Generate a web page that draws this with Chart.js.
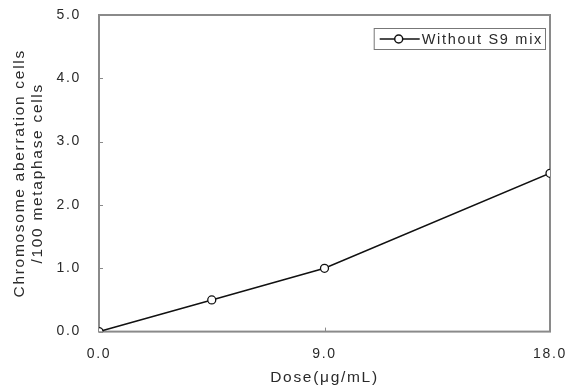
<!DOCTYPE html>
<html>
<head>
<meta charset="utf-8">
<script src="https://cdn.jsdelivr.net/npm/chart.js@4.4.0/dist/chart.umd.min.js"></script>
<style>
  html, body { margin: 0; padding: 0; background: #fff; }
  #wrap { width: 565px; height: 391px; }
</style>
</head>
<body>
<div id="wrap"><canvas id="c"></canvas></div>
<script>
const doses = [0, 4.5, 9, 18];
const aberrations = [0, 0.5, 1.0, 2.5];
const seriesLabel = 'Without S9 mix';
const xTicks = [0, 9, 18];
const yTicks = [0, 1, 2, 3, 4, 5];

const AXIS_COLOR = '#8a8a8a';
const TEXT_COLOR = '#2a2a2a';
const FONT = 'Liberation Sans, Arial, sans-serif';
const SPACING = '1.7px';

// wide letter spacing like the original figure (only when drawing, so layout stays put)
const spacing = {
    id: 'spacing',
    beforeLayout(chart) { chart.ctx.letterSpacing = '0px'; },
    beforeDraw(chart) { chart.ctx.letterSpacing = SPACING; }
};

// box around plot area + small inward tick marks
const frame = {
    id: 'frame',
    beforeDatasetsDraw(chart) {
        const { ctx, chartArea: a, scales } = chart;
        ctx.save();
        ctx.strokeStyle = AXIS_COLOR;
        ctx.lineWidth = 2;
        ctx.strokeRect(a.left, a.top, a.right - a.left, a.bottom - a.top);
        ctx.lineWidth = 1;
        yTicks.forEach(v => {
            const y = Math.round(scales.y.getPixelForValue(v)) + 0.5;
            ctx.beginPath();
            ctx.moveTo(a.left, y);
            ctx.lineTo(a.left + 4, y);
            ctx.stroke();
        });
        xTicks.forEach(v => {
            const x = Math.round(scales.x.getPixelForValue(v)) + 0.5;
            ctx.beginPath();
            ctx.moveTo(x, a.bottom);
            ctx.lineTo(x, a.bottom - 4);
            ctx.stroke();
        });
        ctx.restore();
    }
};

// boxed legend in the top right corner
const boxLegend = {
    id: 'boxLegend',
    afterDraw(chart) {
        const { ctx, chartArea: a } = chart;
        const label = chart.data.datasets[0].label;
        ctx.save();
        ctx.font = '14.5px ' + FONT;
        const tw = ctx.measureText(label).width;
        const w = tw + 50, h = 21;
        const x = a.right - 5 - w, y = a.top + 13;
        ctx.fillStyle = '#fff';
        ctx.fillRect(x, y, w, h);
        ctx.strokeStyle = '#777';
        ctx.lineWidth = 1;
        ctx.strokeRect(x + 0.5, y + 0.5, w, h);
        const cy = y + h / 2 + 0.5;
        ctx.strokeStyle = '#111';
        ctx.lineWidth = 1.5;
        ctx.beginPath();
        ctx.moveTo(x + 6, cy);
        ctx.lineTo(x + 46, cy);
        ctx.stroke();
        ctx.beginPath();
        ctx.arc(x + 25, cy, 4, 0, Math.PI * 2);
        ctx.fillStyle = '#fff';
        ctx.fill();
        ctx.stroke();
        ctx.fillStyle = TEXT_COLOR;
        ctx.textBaseline = 'middle';
        ctx.fillText(label, x + 48, cy + 1);
        ctx.restore();
    }
};

new Chart(document.getElementById('c'), {
    type: 'line',
    data: {
        datasets: [{
            label: seriesLabel,
            data: doses.map((d, i) => ({ x: d, y: aberrations[i] })),
            borderColor: '#111',
            borderWidth: 1.5,
            pointRadius: 4,
            pointBorderWidth: 1.3,
            pointBackgroundColor: '#fff',
            pointBorderColor: '#111',
            tension: 0
        }]
    },
    options: {
        responsive: true,
        maintainAspectRatio: false,
        animation: false,
        layout: { padding: { top: 15, right: 15, left: 0, bottom: 4 } },
        plugins: {
            legend: { display: false },
            tooltip: { enabled: false }
        },
        scales: {
            x: {
                type: 'linear',
                min: 0,
                max: 18,
                afterBuildTicks(scale) {
                    scale.ticks = xTicks.map(v => ({ value: v }));
                },
                grid: { display: true, drawOnChartArea: false, drawTicks: true, tickLength: 14, color: 'rgba(0,0,0,0)' },
                border: { display: false },
                ticks: {
                    color: TEXT_COLOR,
                    padding: 0,
                    maxRotation: 0,
                    font: { family: FONT, size: 14 },
                    callback: v => v.toFixed(1)
                },
                title: {
                    display: true,
                    text: 'Dose(μg/mL)',
                    color: TEXT_COLOR,
                    padding: { top: 6, bottom: 0 },
                    font: { family: FONT, size: 15.5 }
                }
            },
            y: {
                min: 0,
                max: 5,
                afterBuildTicks(scale) {
                    scale.ticks = yTicks.map(v => ({ value: v }));
                },
                afterFit(scale) { scale.width = 99; },
                grid: { display: true, drawOnChartArea: false, drawTicks: true, tickLength: 16, color: 'rgba(0,0,0,0)' },
                border: { display: false },
                ticks: {
                    color: TEXT_COLOR,
                    padding: 2,
                    font: { family: FONT, size: 14 },
                    callback: v => v.toFixed(1)
                },
                title: {
                    display: true,
                    text: ['Chromosome aberration cells', '/100 metaphase cells'],
                    color: TEXT_COLOR,
                    padding: { top: 10, bottom: 4 },
                    font: { family: FONT, size: 15.5 }
                }
            }
        }
    },
    plugins: [spacing, frame, boxLegend]
});
</script>
</body>
</html>
